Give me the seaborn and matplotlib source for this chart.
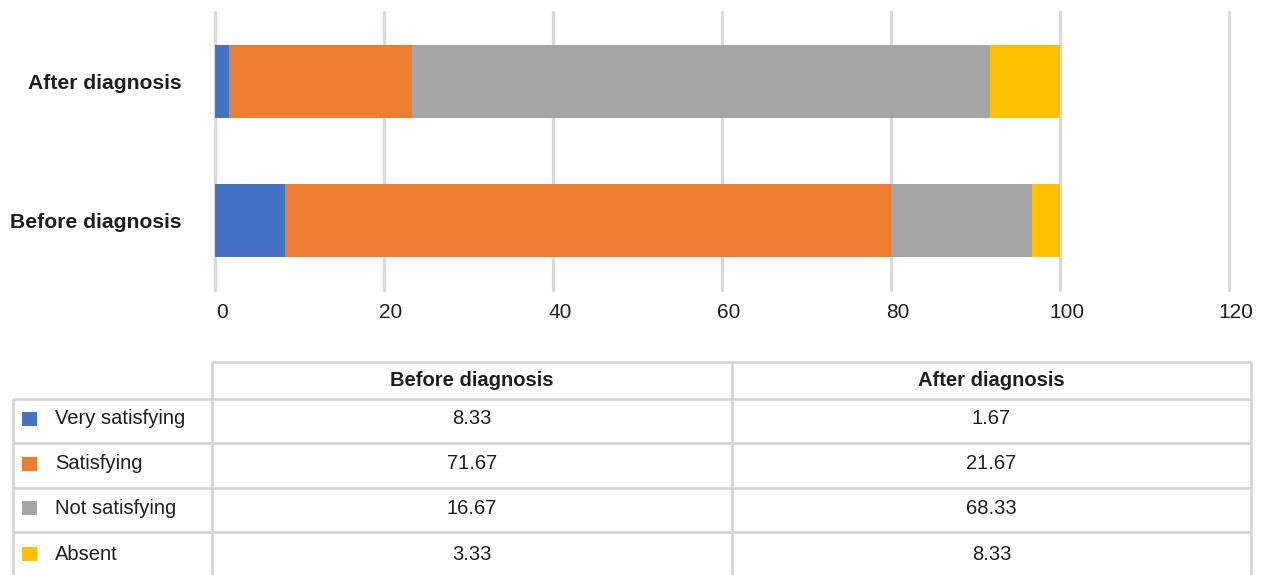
import matplotlib
matplotlib.use("Agg")
import matplotlib.pyplot as plt
import matplotlib.transforms as mtransforms
from matplotlib.patches import Rectangle
import pandas as pd
import seaborn as sns

# ---- data -------------------------------------------------------------
periods = ["After diagnosis", "Before diagnosis"]          # bar order, top to bottom
table_periods = ["Before diagnosis", "After diagnosis"]    # table column order
levels = ["Very satisfying", "Satisfying", "Not satisfying", "Absent"]
before = [8.33, 71.67, 16.67, 3.33]
after = [1.67, 21.67, 68.33, 8.33]
colors = ["#4472C4", "#ED7D31", "#A5A5A5", "#FFC000"]
x_ticks = [0, 20, 40, 60, 80, 100, 120]

# ---- style ------------------------------------------------------------
sns.set_theme(style="white")
plt.rcParams["font.family"] = ["Liberation Sans", "DejaVu Sans"]
TEXT = "#1E1E1E"
GRID = "#D9D9D9"
RULE = "#D3D3D3"

W, H = 1270, 575
fig = plt.figure(figsize=(W / 100, H / 100), dpi=100)


def px_axes(x0, y0, x1, y1):
    """Axes placed by pixel box (origin at top-left)."""
    return fig.add_axes([x0 / W, 1 - y1 / H, (x1 - x0) / W, (y1 - y0) / H])


# ---- stacked bar chart ------------------------------------------------
ax = px_axes(215, 12, 1229, 290)

df = pd.DataFrame({
    "period": ["Before diagnosis"] * len(levels) + ["After diagnosis"] * len(levels),
    "level": levels * 2,
    "value": before + after,
})
# right edge of each segment = running total within its period
df["end"] = df.groupby("period")["value"].cumsum()

# draw the longest running totals first so shorter ones sit on top
for level, color in reversed(list(zip(levels, colors))):
    sub = df[df["level"] == level]
    sns.barplot(data=sub, x="end", y="period", order=periods, orient="h",
                color=color, saturation=1, width=0.52, errorbar=None,
                edgecolor="none", linewidth=0, ax=ax)

ax.set_xlim(0, 120)
ax.set_ylim(1.5, -0.5)
ax.set_xticks(x_ticks)
ax.set_xticklabels([str(t) for t in x_ticks])
ax.grid(axis="x", color=GRID, linewidth=2.4)
ax.grid(axis="y", visible=False)
ax.set_axisbelow(True)
for gl in ax.get_xgridlines():
    gl.set_clip_on(False)
for s in ax.spines.values():
    s.set_visible(False)
ax.set_xlabel("")
ax.set_ylabel("")
ax.tick_params(axis="x", length=0, pad=9, labelsize=15, labelcolor=TEXT)
ax.tick_params(axis="y", length=0, pad=24, labelsize=15.2, labelcolor=TEXT)
for lab in ax.get_yticklabels():
    lab.set_fontweight("bold")
shift = mtransforms.ScaledTranslation(7 / 100, 0, fig.dpi_scale_trans)
for lab in ax.get_xticklabels():
    lab.set_transform(lab.get_transform() + shift)

# ---- data table -------------------------------------------------------
tx = px_axes(0, 0, W, H)
tx.set_xlim(0, W)
tx.set_ylim(H, 0)
tx.axis("off")
tx.patch.set_alpha(0)

col_edges = [13, 212, 732, 1251]
row_edges = [362, 399, 443, 488, 532, 580]
lw = 1.8

# header rule spans only the value columns
tx.plot([col_edges[1], col_edges[-1]], [row_edges[0]] * 2, color=RULE, lw=lw,
        solid_capstyle="butt")
for y in row_edges[1:-1]:
    tx.plot([col_edges[0], col_edges[-1]], [y, y], color=RULE, lw=lw,
            solid_capstyle="butt")
tx.plot([col_edges[0]] * 2, [row_edges[1], row_edges[-1]], color=RULE, lw=lw)
for x in col_edges[1:]:
    tx.plot([x, x], [row_edges[0], row_edges[-1]], color=RULE, lw=lw)

# column headers
for i, name in enumerate(table_periods):
    cx = (col_edges[i + 1] + col_edges[i + 2]) / 2
    cy = (row_edges[0] + row_edges[1]) / 2
    tx.text(cx, cy, name, ha="center", va="center", fontsize=14.5,
            fontweight="bold", color=TEXT)

# rows: colour key, level name, values
for r, (level, color, b, a) in enumerate(zip(levels, colors, before, after)):
    cy = (row_edges[r + 1] + row_edges[r + 2]) / 2 - 2
    tx.add_patch(Rectangle((22, cy - 7), 15, 14, facecolor=color, edgecolor="none"))
    tx.text(55, cy, level, ha="left", va="center", fontsize=14.5, color=TEXT)
    for i, v in enumerate([b, a]):
        cx = (col_edges[i + 1] + col_edges[i + 2]) / 2
        tx.text(cx, cy, f"{v:.2f}", ha="center", va="center", fontsize=14.5,
                color=TEXT)

fig.savefig("out.png", dpi=100, facecolor="white")
